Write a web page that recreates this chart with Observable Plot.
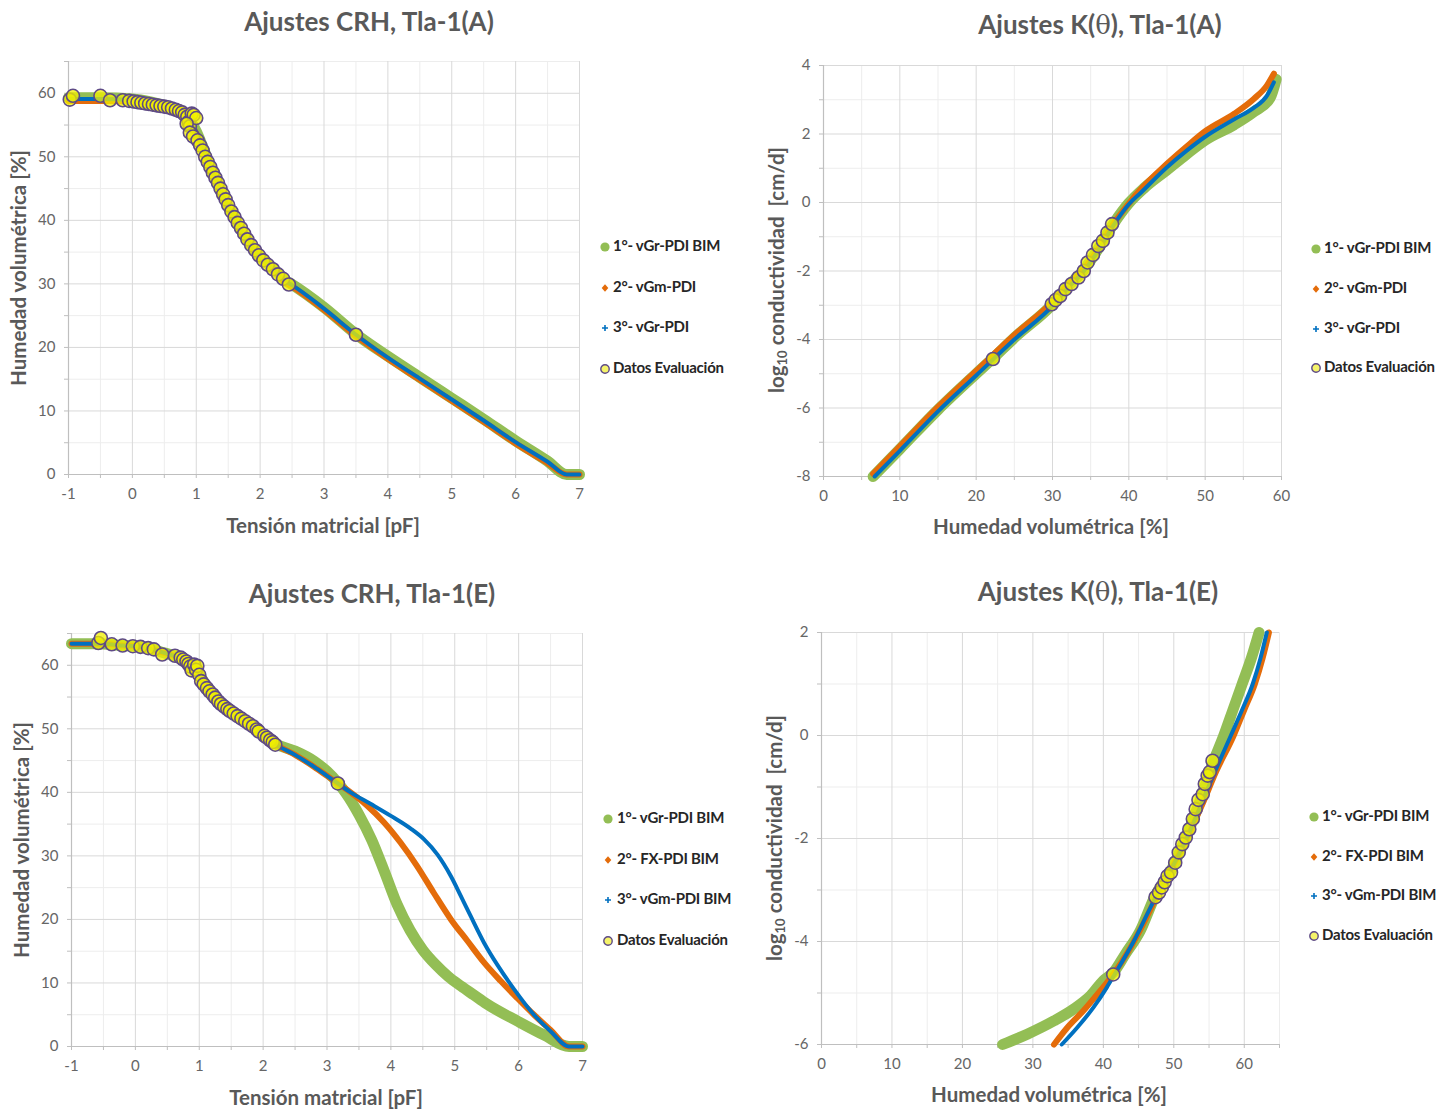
<!DOCTYPE html>
<html><head><meta charset="utf-8">
<script src="https://cdn.jsdelivr.net/npm/d3@7"></script>
<script src="https://cdn.jsdelivr.net/npm/@observablehq/plot@0.6"></script>
<style>
body{margin:0;background:#fff;font-family:Lato,"Open Sans",sans-serif;}
#root{position:relative;width:1455px;height:1111px;overflow:hidden;background:#fff;}
.abs{position:absolute;line-height:1;white-space:nowrap;}
.title{font-weight:700;font-size:26px;color:#595959;transform:translateX(-50%);}
.xlab{font-weight:700;font-size:20.5px;color:#595959;transform:translate(-50%,-50%);}
.ylab{font-weight:700;font-size:20.5px;color:#595959;transform:translate(-50%,-50%) rotate(-90deg);}
.ylab sub{font-size:13px;vertical-align:-3px;}
.leg{font-weight:700;font-size:15px;color:#262626;transform:translateY(-50%);letter-spacing:-0.25px;}
.th{font-family:"DejaVu Serif",serif;font-weight:400;}
svg.p{position:absolute;overflow:visible;}
</style></head><body><div id="root"></div>
<script>
// ---------- Panel 1: Ajustes CRH, Tla-1(A) ----------
const p1FitX   = [-1,-0.5,0,0.3,0.5,0.7,0.8,0.9,1.0,1.1,1.2,1.3,1.4,1.5,1.6,1.7,1.8,1.9,2.0,2.2,2.4,2.5,3.0,3.5,4.0,4.5,5.0,5.5,6.0,6.5,6.8,7.0];
const p1Green  = [59.3,59.3,59.1,58.6,58.1,57.4,57.0,55.8,54.0,51.6,49.0,46.7,44.3,42.2,40.4,38.5,36.9,35.5,34.3,32.5,30.5,29.9,26.3,22.1,18.6,15.3,12.0,8.7,5.3,2.1,0,0];
const p1Orange = [58.8,58.8,58.7,58.3,57.8,57.1,56.7,55.5,53.7,51.3,48.8,46.5,44.1,42.0,40.2,38.3,36.7,35.3,34.1,32.3,30.2,29.6,25.9,21.8,18.2,14.9,11.6,8.3,4.9,1.8,0,0];
const p1Blue   = [59.1,59.1,58.9,58.5,58.0,57.3,56.9,55.7,53.9,51.5,48.9,46.6,44.2,42.1,40.3,38.4,36.8,35.4,34.2,32.4,30.4,29.8,26.1,22.0,18.4,15.1,11.8,8.5,5.1,2.0,0,0];
const p1DataX  = [-0.98,-0.93,-0.5,-0.35,-0.15,-0.05,0.02,0.08,0.14,0.2,0.26,0.32,0.38,0.44,0.5,0.56,0.62,0.68,0.73,0.78,0.82,0.86,0.88,0.9,0.93,0.96,1.0,0.85,0.9,0.95,1.02,1.06,1.1,1.14,1.18,1.22,1.26,1.3,1.34,1.38,1.42,1.46,1.5,1.55,1.6,1.65,1.7,1.75,1.8,1.86,1.92,1.98,2.05,2.12,2.2,2.28,2.36,2.45,3.5];
const p1DataY  = [59.0,59.6,59.6,58.9,58.9,58.8,58.7,58.6,58.5,58.4,58.3,58.2,58.1,58.0,57.9,57.8,57.6,57.4,57.2,57.0,56.6,56.3,55.5,54.8,56.8,56.6,56.1,55.2,53.8,53.2,52.6,51.8,51.0,50.0,49.2,48.4,47.5,46.7,45.9,45.0,44.1,43.3,42.4,41.4,40.5,39.6,38.8,37.9,37.0,36.1,35.3,34.5,33.7,33.0,32.3,31.5,30.8,29.9,22.0];

// ---------- Panel 2: Ajustes K(θ), Tla-1(A) ----------
const p2GreenX  = [6.5,10,15,20,22.2,25,30,32,34,36,38,40,42,45,47.5,50,53.8,56.4,58.5,59.3];
const p2GreenY  = [-8.0,-7.2,-6.05,-5.0,-4.55,-3.95,-2.97,-2.45,-2.0,-1.35,-0.62,-0.02,0.42,0.95,1.4,1.82,2.27,2.65,3.05,3.6];
const p2OrangeX = [6.5,10,15,20,25,30,32,34,36,38,40,41.5,45,47.5,50,53.8,56.4,58.1,59.0];
const p2OrangeY = [-7.92,-7.12,-5.97,-4.92,-3.87,-2.9,-2.42,-1.97,-1.36,-0.62,-0.03,0.37,1.13,1.62,2.08,2.59,3.03,3.42,3.76];
const p2BlueX   = [6.7,10,15,20,25,30,32,34,36,38,40,41.5,45,47.5,50,53.8,56.4,58.1,59.0];
const p2BlueY   = [-8.0,-7.25,-6.1,-5.05,-4.0,-3.02,-2.5,-2.03,-1.4,-0.66,-0.05,0.27,1.03,1.5,1.92,2.43,2.77,3.12,3.51];
const p2DataX   = [22.2,29.9,30.4,31.0,31.7,32.5,33.4,34.1,34.6,35.3,36.0,36.6,37.2,37.8];
const p2DataY   = [-4.57,-2.97,-2.85,-2.73,-2.53,-2.38,-2.19,-2.0,-1.75,-1.53,-1.27,-1.12,-0.88,-0.63];

// ---------- Panel 3: Ajustes CRH, Tla-1(E) ----------
const p3GreenX  = [-1,-0.6,-0.4,-0.2,0,0.2,0.4,0.6,0.8,0.9,1.0,1.1,1.2,1.3,1.4,1.6,1.8,2.0,2.2,2.5,2.8,3.0,3.17,3.3,3.5,3.7,3.9,4.1,4.3,4.5,4.7,4.9,5.1,5.3,5.5,6.0,6.4,6.79,7.0];
const p3GreenY  = [63.4,63.4,63.3,63.1,63.0,62.7,62.1,61.5,60.6,59.8,58.6,56.9,55.5,54.4,53.5,52.0,50.5,49.0,47.6,46.5,44.9,43.3,41.5,39.8,36.5,32.5,27.5,22.3,18.3,15.2,12.9,11.0,9.5,8.1,6.7,3.9,1.8,0,0];
const p3OrangeX = [-1,-0.6,-0.4,-0.2,0,0.2,0.4,0.6,0.8,0.9,1.0,1.1,1.2,1.3,1.4,1.6,1.8,2.0,2.2,2.5,2.8,3.0,3.17,3.37,3.63,3.89,4.15,4.41,4.67,4.94,5.2,5.46,5.72,5.98,6.24,6.5,6.79,7.0];
const p3OrangeY = [63.4,63.4,63.3,63.1,63.0,62.7,62.1,61.5,60.6,59.8,58.6,56.9,55.5,54.4,53.5,52.0,50.5,49.0,47.5,45.9,44.0,42.6,41.4,40.0,37.9,35.3,32.1,28.4,24.2,20.0,16.6,13.2,10.3,7.6,5.0,2.6,0,0];
const p3BlueX   = [-1,-0.6,-0.4,-0.2,0,0.2,0.4,0.6,0.8,0.9,1.0,1.1,1.2,1.3,1.4,1.6,1.8,2.0,2.2,2.5,2.8,3.0,3.17,3.37,3.68,4.0,4.31,4.52,4.73,4.94,5.09,5.25,5.46,5.67,5.93,6.24,6.5,6.79,7.0];
const p3BlueY   = [63.4,63.4,63.3,63.1,63.0,62.7,62.1,61.5,60.6,59.8,58.6,56.9,55.5,54.4,53.5,52.0,50.5,49.0,47.5,45.9,44.0,42.6,41.4,40.0,38.2,36.3,34.3,32.6,30.2,26.8,23.8,20.5,16.3,12.8,9.0,5.0,2.4,0,0];
const p3DataX   = [-0.58,-0.54,-0.37,-0.2,-0.04,0.08,0.2,0.29,0.42,0.62,0.71,0.75,0.8,0.83,0.86,0.88,0.92,0.95,0.97,1.0,1.03,1.07,1.12,1.16,1.21,1.25,1.3,1.34,1.39,1.44,1.48,1.54,1.6,1.66,1.72,1.78,1.84,1.9,1.93,2.02,2.06,2.11,2.15,2.19,3.17];
const p3DataY   = [63.5,64.3,63.3,63.1,63.0,62.9,62.7,62.5,61.7,61.5,61.2,60.9,60.6,60.2,59.8,59.2,60.1,59.3,59.9,58.5,57.5,57.0,56.4,55.9,55.4,54.9,54.3,53.9,53.5,53.1,52.8,52.4,52.0,51.6,51.2,50.8,50.4,49.9,49.6,48.9,48.6,48.2,47.9,47.5,41.4];

// ---------- Panel 4: Ajustes K(θ), Tla-1(E) ----------
const p4GreenX  = [25.7,29.2,33,35.8,38.2,40,41.5,43.1,45.2,47.4,49.5,51.5,53.5,55.5,57.1,58.4,59.7,61,62.1];
const p4GreenY  = [-6.0,-5.8,-5.54,-5.31,-5.05,-4.76,-4.59,-4.25,-3.8,-3.1,-2.65,-2.05,-1.35,-0.55,0.0,0.5,1.0,1.5,2.0];
const p4OrangeX = [33,34.9,37.2,39.6,41.5,43.5,45.5,47.5,50,52,54,56,58.5,60,61.5,62.6,63.5];
const p4OrangeY = [-6.0,-5.67,-5.34,-4.95,-4.62,-4.2,-3.7,-3.15,-2.5,-1.95,-1.35,-0.7,0.0,0.5,1.0,1.5,2.0];
const p4BlueX   = [34.1,36.3,38.6,40.5,41.5,44.3,47.2,50,52,54,56,58.1,59.7,61.2,62.3,63.2];
const p4BlueY   = [-6.0,-5.67,-5.28,-4.89,-4.66,-4.0,-3.2,-2.5,-1.95,-1.3,-0.65,0.0,0.5,1.0,1.5,2.0];
const p4DataX   = [41.4,47.4,47.9,48.3,48.7,49.1,49.6,50.2,50.7,51.2,51.7,52.2,52.7,53.1,53.5,54.1,54.4,54.8,55.1,55.5];
const p4DataY   = [-4.64,-3.14,-3.05,-2.95,-2.85,-2.73,-2.66,-2.47,-2.27,-2.11,-1.98,-1.82,-1.62,-1.43,-1.25,-1.14,-0.94,-0.78,-0.71,-0.49];

// ---------- Ticks ----------
const crhXTicks = [-1,0,1,2,3,4,5,6,7];
const crhXMinor = [-0.5,0.5,1.5,2.5,3.5,4.5,5.5,6.5];
const crhYTicks = [0,10,20,30,40,50,60];
const crhYMinor = [5,15,25,35,45,55,65];
const kXTicks   = [0,10,20,30,40,50,60];
const kXMinorA  = [5,15,25,35,45,55];
const kXMinorE  = [5,15,25,35,45,55,65];
const kAYTicks  = [-8,-6,-4,-2,0,2,4];
const kAYMinor  = [-7,-5,-3,-1,1,3];
const kEYTicks  = [-6,-4,-2,0,2];
const kEYMinor  = [-5,-3,-1,1];

// ---------- Text ----------
const titles = ["Ajustes CRH, Tla-1(A)", "Ajustes K(θ), Tla-1(A)", "Ajustes CRH, Tla-1(E)", "Ajustes K(θ), Tla-1(E)"];
const xLabels = ["Tensión matricial [pF]", "Humedad volumétrica [%]", "Tensión matricial [pF]", "Humedad volumétrica [%]"];
const yLabelCRH = "Humedad volumétrica [%]";
const legendA = ["1°- vGr-PDI BIM", "2°- vGm-PDI", "3°- vGr-PDI", "Datos Evaluación"];
const legendE = ["1°- vGr-PDI BIM", "2°- FX-PDI BIM", "3°- vGm-PDI BIM", "Datos Evaluación"];

const GREEN = "#93BE55", ORANGE = "#E46C0A", BLUE = "#0070C0", YEL = "#F2F000", PUR = "#5E4A86";
const root = document.getElementById("root");
const pts = (xs, ys) => xs.map((x, i) => ({x, y: ys[i]}));
const fmt = d => String(d);

function panel(c) {
  const marks = [
    Plot.ruleX(c.xMinor, {stroke: "#ededed"}),
    Plot.ruleY(c.yMinor, {stroke: "#ededed"}),
    Plot.ruleX(c.xTicks, {stroke: "#d9d9d9"}),
    Plot.ruleY(c.yTicks, {stroke: "#d9d9d9"}),
    Plot.ruleY([c.yDomain[0]], {stroke: "#bfbfbf", strokeWidth: 1.2}),
    Plot.ruleX([c.xDomain[0]], {stroke: "#bfbfbf", strokeWidth: 1.2}),
    Plot.axisX({ticks: c.xTicks.concat(c.xMinor), tickSize: 4, stroke: "#bfbfbf", tickFormat: () => "", label: null}),
    Plot.axisY({ticks: c.yTicks.concat(c.yMinor), tickSize: 4, stroke: "#bfbfbf", tickFormat: () => "", label: null}),
    Plot.axisX({ticks: c.xTicks, tickSize: 0, tickPadding: 14, tickFormat: fmt, label: null, fontSize: 15, fill: "#666"}),
    Plot.axisY({ticks: c.yTicks, tickSize: 0, tickPadding: 13, tickFormat: fmt, label: null, fontSize: 15, fill: "#666"}),
    Plot.line(pts(c.g[0], c.g[1]), {x: "x", y: "y", stroke: GREEN, strokeWidth: 11, curve: "monotone-x", strokeLinecap: "round", strokeLinejoin: "round"}),
    Plot.line(pts(c.o[0], c.o[1]), {x: "x", y: "y", stroke: ORANGE, strokeWidth: 6, curve: "monotone-x", strokeLinecap: "round", strokeLinejoin: "round"}),
    Plot.line(pts(c.b[0], c.b[1]), {x: "x", y: "y", stroke: BLUE, strokeWidth: 4, curve: "monotone-x", strokeLinecap: "round", strokeLinejoin: "round"}),
    Plot.dot(pts(c.d[0], c.d[1]), {x: "x", y: "y", r: 6.5, fill: YEL, fillOpacity: 0.75, stroke: PUR, strokeWidth: 1.6})
  ];
  const svg = Plot.plot({
    width: c.W, height: c.H,
    marginLeft: c.mL, marginRight: c.mR, marginTop: c.mT, marginBottom: c.mB,
    x: {domain: c.xDomain}, y: {domain: c.yDomain},
    style: {fontFamily: "Lato, 'Open Sans', sans-serif", background: "transparent", overflow: "visible"},
    marks
  });
  svg.classList.add("p");
  svg.style.left = c.left + "px"; svg.style.top = c.top + "px";
  root.appendChild(svg);
}

function text(cls, html, x, y) {
  const d = document.createElement("div");
  d.className = "abs " + cls; d.innerHTML = html;
  d.style.left = x + "px"; d.style.top = y + "px";
  root.appendChild(d);
}

function legend(labels, mx, tx, ys) {
  const sym = [
    `<svg width="12" height="12"><circle cx="6" cy="6" r="4.6" fill="${GREEN}"/></svg>`,
    `<svg width="12" height="12"><path d="M6 2.2L9.3 6L6 9.8L2.7 6Z" fill="${ORANGE}"/></svg>`,
    `<svg width="12" height="12"><path d="M6 3V9M3 6H9" stroke="${BLUE}" stroke-width="1.6"/></svg>`,
    `<svg width="12" height="12"><circle cx="6" cy="6" r="4.2" fill="#F5F36A" stroke="${PUR}" stroke-width="1.4"/></svg>`
  ];
  labels.forEach((l, i) => {
    const s = document.createElement("div");
    s.className = "abs"; s.innerHTML = sym[i];
    s.style.left = (mx - 6) + "px"; s.style.top = (ys[i] - 6) + "px";
    root.appendChild(s);
    text("leg", l, tx, ys[i]);
  });
}

panel({left: 0, top: 40, W: 600, H: 470, mL: 68, mR: 21, mT: 21, mB: 36,
  xDomain: [-1, 7], yDomain: [0, 65], xTicks: crhXTicks, xMinor: crhXMinor, yTicks: crhYTicks, yMinor: crhYMinor,
  g: [p1FitX, p1Green], o: [p1FitX, p1Orange], b: [p1FitX, p1Blue], d: [p1DataX, p1DataY]});
panel({left: 740, top: 40, W: 560, H: 470, mL: 83, mR: 19, mT: 25, mB: 34,
  xDomain: [0, 60], yDomain: [-8, 4], xTicks: kXTicks, xMinor: kXMinorA, yTicks: kAYTicks, yMinor: kAYMinor,
  g: [p2GreenX, p2GreenY], o: [p2OrangeX, p2OrangeY], b: [p2BlueX, p2BlueY], d: [p2DataX, p2DataY]});
panel({left: 0, top: 610, W: 600, H: 470, mL: 71, mR: 18, mT: 23, mB: 34,
  xDomain: [-1, 7], yDomain: [0, 65], xTicks: crhXTicks, xMinor: crhXMinor, yTicks: crhYTicks, yMinor: crhYMinor,
  g: [p3GreenX, p3GreenY], o: [p3OrangeX, p3OrangeY], b: [p3BlueX, p3BlueY], d: [p3DataX, p3DataY]});
panel({left: 740, top: 610, W: 560, H: 470, mL: 81, mR: 21, mT: 22, mB: 36,
  xDomain: [0, 65], yDomain: [-6, 2], xTicks: kXTicks, xMinor: kXMinorE, yTicks: kEYTicks, yMinor: kEYMinor,
  g: [p4GreenX, p4GreenY], o: [p4OrangeX, p4OrangeY], b: [p4BlueX, p4BlueY], d: [p4DataX, p4DataY]});

const thetaTitle = t => t.replace("θ", '<span class="th">θ</span>');
text("title", thetaTitle(titles[0]), 369, 8);
text("title", thetaTitle(titles[1]), 1100, 11);
text("title", thetaTitle(titles[2]), 372, 580);
text("title", thetaTitle(titles[3]), 1098, 578);

text("xlab", xLabels[0], 323, 525);
text("xlab", xLabels[1], 1051, 526);
text("xlab", xLabels[2], 326, 1097);
text("xlab", xLabels[3], 1049, 1094);

const kY = 'log<sub>10</sub> conductividad&nbsp; [cm/d]';
text("ylab", yLabelCRH, 18, 268);
text("ylab", kY, 777, 270);
text("ylab", yLabelCRH, 21, 840);
text("ylab", kY, 775, 838);

legend(legendA, 605, 613, [245, 286, 326, 367]);
legend(legendA, 1316, 1324, [247, 287, 327, 366]);
legend(legendE, 608, 617, [817, 858, 898, 939]);
legend(legendE, 1314, 1322, [815, 855, 894, 934]);
</script></body></html>
